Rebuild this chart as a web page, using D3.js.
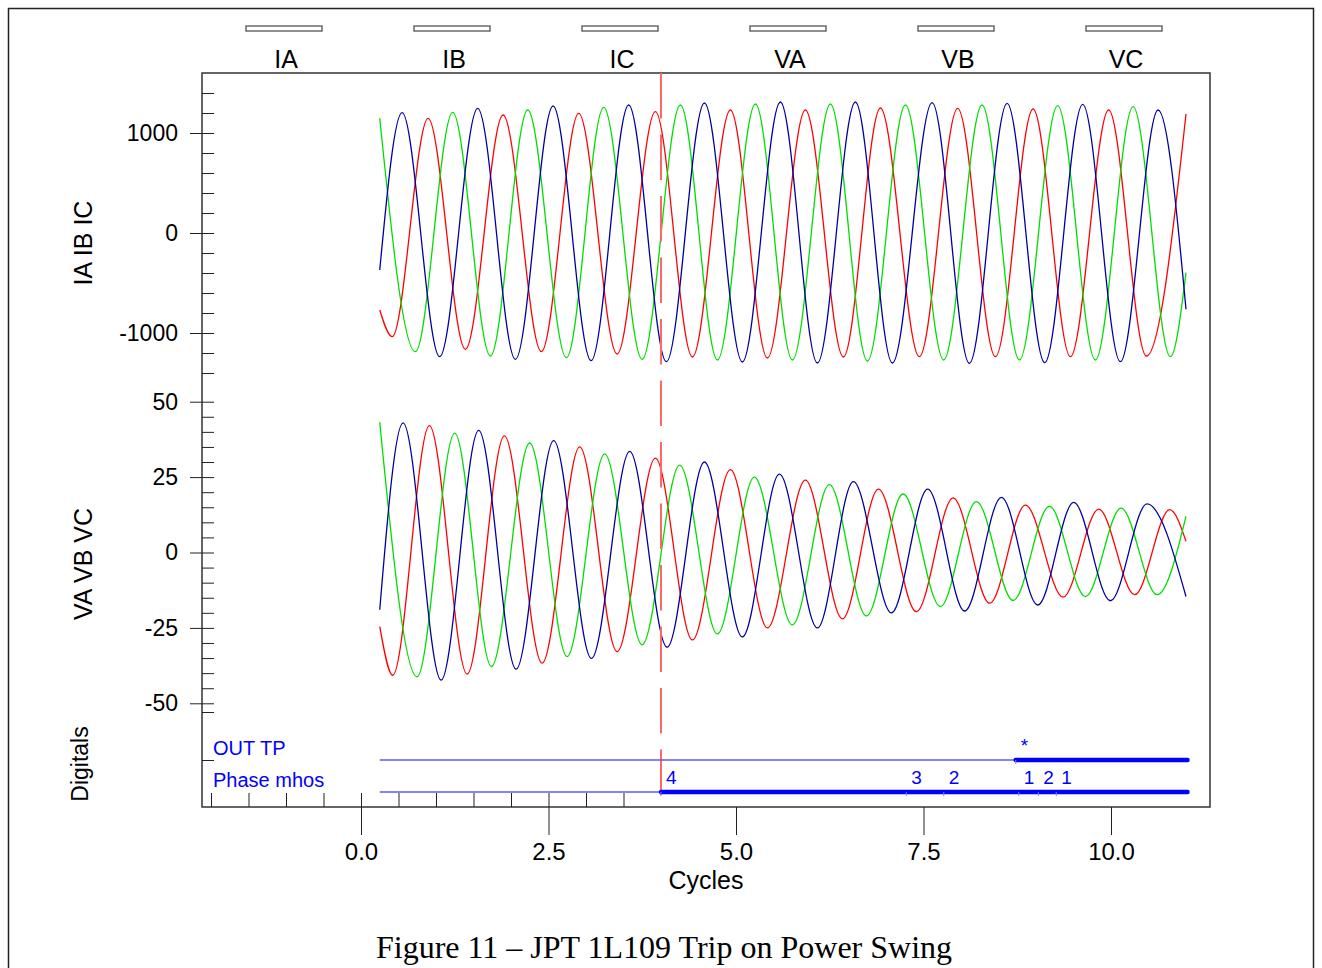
<!DOCTYPE html>
<html>
<head>
<meta charset="utf-8">
<script src="https://d3js.org/d3.v7.min.js"></script>
<style>
  body { margin: 0; background: #fff; }
  svg text { font-family: "Liberation Sans", Arial, sans-serif; }
</style>
</head>
<body>
<div id="chart"></div>
<script>
// ---- data (time in cycles, extrema) ----
var legendNames = ["IA", "IB", "IC", "VA", "VB", "VC"];
var xTicks = [0, 2.5, 5, 7.5, 10];
var xMinor = [-2, -1.5, -1, -0.5, 0, 0.5, 1, 1.5, 2, 2.5, 3, 3.5];
var iTicks = [-1000, 0, 1000];
var iMinor = [-1400, -1200, -800, -600, -400, -200, 200, 400, 600, 800, 1200, 1400];
var vTicks = [-50, -25, 0, 25, 50];
var vMinor = [-45, -40, -35, -30, -20, -15, -10, -5, 5, 10, 15, 20, 30, 35, 40, 45];

var IA = [[0.25,-770],[0.415,-1037],[0.895,1147],[1.392,-1163],[1.895,1180],[2.405,-1187],[2.903,1197],[3.415,-1210],[3.925,1213],[4.419,-1240],[4.925,1230],[5.419,-1250],[5.925,1230],[6.432,-1240],[6.925,1250],[7.445,-1237],[7.956,1247],[8.459,-1237],[8.961,1240],[9.459,-1237],[9.969,1230],[10.472,-1230],[11.0,1190]];
var IB = [[0.25,1147],[0.725,-1187],[1.223,1207],[1.725,-1230],[2.223,1230],[2.739,-1247],[3.236,1257],[3.748,-1263],[4.259,1280],[4.752,-1270],[5.259,1290],[5.752,-1270],[6.259,1290],[6.752,-1280],[7.259,1280],[7.769,-1270],[8.281,1280],[8.779,-1270],[9.289,1273],[9.792,-1270],[10.295,1263],[10.792,-1237],[11.0,-397]];
var IC = [[0.25,-370],[0.548,1203],[1.049,-1237],[1.556,1247],[2.059,-1263],[2.561,1270],[3.068,-1277],[3.569,1280],[4.072,-1287],[4.579,1300],[5.085,-1290],[5.592,1310],[6.085,-1300],[6.592,1310],[7.085,-1300],[7.615,1303],[8.112,-1303],[8.615,1297],[9.116,-1297],[9.623,1287],[10.125,-1287],[10.628,1230],[11.0,-763]];

var VA = [[0.25,-24.6],[0.423,-40.7],[0.912,42.1],[1.415,-40.3],[1.912,38.7],[2.415,-36.7],[2.916,35.0],[3.415,-32.9],[3.925,31.3],[4.419,-29],[4.925,27.5],[5.419,-25],[5.925,24],[6.419,-22],[6.899,21],[7.405,-19.6],[7.895,18.1],[8.383,-16.8],[8.859,15.7],[9.361,-14.8],[9.836,14.4],[10.316,-14.0],[10.783,14.2],[11.0,3.7]];
var VB = [[0.25,43.2],[0.748,-41.2],[1.249,39.6],[1.739,-37.8],[2.249,36.3],[2.748,-34.5],[3.249,32.7],[3.748,-30.6],[4.249,29],[4.752,-27],[5.245,25],[5.752,-24],[6.245,22.5],[6.739,-21],[7.228,19.4],[7.725,-17.9],[8.205,16.9],[8.695,-15.9],[9.179,15.3],[9.659,-14.6],[10.135,14.7],[10.615,-14.0],[11.0,12.0]];
var VC = [[0.25,-19.0],[0.561,43.0],[1.068,-42.3],[1.569,40.5],[2.068,-38.7],[2.569,37.1],[3.072,-35.1],[3.583,33.5],[4.081,-31.4],[4.579,30],[5.085,-28],[5.579,26],[6.085,-25],[6.565,23.5],[7.072,-20],[7.556,21.0],[8.049,-19.4],[8.539,18.3],[9.023,-17.4],[9.503,16.6],[9.992,-16.0],[10.481,16.1],[11.0,-14.6]];

var digitalNames = ["OUT TP", "Phase mhos"];
var outTp = [[0.25,0],[8.73,1],[11.02,1]];
var phaseMhos = [[0.25,0],[4.0,1],[11.02,1]];
var outTpMarks = [[8.73,"*"]];
var phaseMhosMarks = [[4.0,"4"],[7.27,"3"],[7.77,"2"],[8.77,"1"],[9.03,"2"],[9.27,"1"]];
var triggerTime = 4.0;

// ---- layout ----
var width = 1322, height = 968;
var box = { left: 202, right: 1210, top: 73, bottom: 807 };
var colors = { A: "#ff0000", B: "#00dd00", C: "#0000a0" };
var plainNum = function (d) { return String(d); };

var svg = d3.select("#chart").append("svg")
  .attr("width", width)
  .attr("height", height);

// page frame
svg.append("rect")
  .attr("x", 8.5).attr("y", 8.5)
  .attr("width", 1305).attr("height", 1000)
  .attr("fill", "none").attr("stroke", "#222").attr("stroke-width", 1.5);

var x = d3.scaleLinear().domain([-2.12, 11.32]).range([box.left, box.right]);
var yI = d3.scaleLinear().domain([-1000, 1000]).range([333, 133]);
var yV = d3.scaleLinear().domain([-50, 50]).range([703.3, 401.7]);
var yD = d3.scalePoint().domain(digitalNames).range([760, 792]);
var legendX = d3.scalePoint().domain(legendNames).range([284, 1124]);

// legend
var leg = svg.append("g").attr("class", "legend");
leg.selectAll("rect")
  .data(legendNames)
  .enter().append("rect")
  .attr("x", function (d) { return legendX(d) - 38; })
  .attr("y", 26)
  .attr("width", 76)
  .attr("height", 5)
  .attr("fill", "#fff")
  .attr("stroke", "#444")
  .attr("stroke-width", 1.2);
leg.selectAll("text")
  .data(legendNames)
  .enter().append("text")
  .attr("x", function (d) { return legendX(d) + 2; })
  .attr("y", 68)
  .attr("text-anchor", "middle")
  .attr("font-size", 25)
  .attr("fill", "#000")
  .text(function (d) { return d; });

// plot box
svg.append("rect")
  .attr("x", box.left).attr("y", box.top)
  .attr("width", box.right - box.left).attr("height", box.bottom - box.top)
  .attr("fill", "none").attr("stroke", "#333").attr("stroke-width", 1.5);

// y axes : major ticks cross the frame, minor ticks inside only
function yAxis(scale, major, minor) {
  var outer = svg.append("g").attr("transform", "translate(" + box.left + ",0)");
  outer.call(d3.axisLeft(scale).tickValues(major).tickSize(12).tickSizeOuter(0)
    .tickPadding(12).tickFormat(plainNum));
  var inner = svg.append("g").attr("transform", "translate(" + box.left + ",0)");
  inner.call(d3.axisRight(scale).tickValues(major.concat(minor)).tickSize(12).tickSizeOuter(0).tickFormat(""));
  [outer, inner].forEach(function (g) {
    g.selectAll(".domain").remove();
    g.attr("font-size", 23).attr("font-family", null);
    g.selectAll("line").attr("stroke", "#222");
    g.selectAll("text").attr("fill", "#000");
  });
}
yAxis(yI, iTicks, iMinor);
yAxis(yV, vTicks, vMinor);

// digitals axis ticks
var dTicks = svg.append("g").attr("transform", "translate(" + box.left + ",0)");
dTicks.selectAll("line")
  .data([712, yD("OUT TP")])
  .enter().append("line")
  .attr("x1", 0).attr("x2", 12)
  .attr("y1", function (d) { return d + 0.5; })
  .attr("y2", function (d) { return d + 0.5; })
  .attr("stroke", "#222");

// x axis
var xg = svg.append("g").attr("transform", "translate(0," + box.bottom + ")");
xg.call(d3.axisBottom(x).tickValues(xTicks).tickSize(28).tickSizeOuter(0)
  .tickPadding(8).tickFormat(d3.format(".1f")));
var xg2 = svg.append("g").attr("transform", "translate(0," + box.bottom + ")");
xg2.call(d3.axisTop(x).tickValues(xMinor).tickSize(14).tickSizeOuter(0).tickFormat(""));
[xg, xg2].forEach(function (g) {
  g.selectAll(".domain").remove();
  g.attr("font-size", 24).attr("font-family", null);
  g.selectAll("line").attr("stroke", "#222");
  g.selectAll("text").attr("fill", "#000");
});

// axis titles
function vTitle(txt, cx, cy, size) {
  svg.append("text")
    .attr("transform", "translate(" + cx + "," + cy + ") rotate(-90)")
    .attr("text-anchor", "middle")
    .attr("font-size", size)
    .attr("fill", "#000")
    .text(txt);
}
vTitle("IA IB IC", 92, 243, 25);
vTitle("VA VB VC", 92, 564, 25);
vTitle("Digitals", 88, 764, 23);

svg.append("text")
  .attr("x", (box.left + box.right) / 2)
  .attr("y", 889)
  .attr("text-anchor", "middle")
  .attr("font-size", 25)
  .attr("fill", "#000")
  .text("Cycles");

// waveforms
var plot = svg.append("g");
function wave(data, yScale, color) {
  var line = d3.line()
    .x(function (d) { return x(d[0]); })
    .y(function (d) { return yScale(d[1]); })
    .curve(d3.curveMonotoneX);
  plot.append("path")
    .datum(data)
    .attr("d", line)
    .attr("fill", "none")
    .attr("stroke", color)
    .attr("stroke-width", 1.3);
}
wave(IA, yI, colors.A);
wave(IB, yI, colors.B);
wave(IC, yI, colors.C);
wave(VA, yV, colors.A);
wave(VB, yV, colors.B);
wave(VC, yV, colors.C);

// trigger marker
svg.append("line")
  .attr("x1", x(triggerTime)).attr("x2", x(triggerTime))
  .attr("y1", box.top).attr("y2", 795)
  .attr("stroke", "#ff6666")
  .attr("stroke-width", 2)
  .attr("stroke-dasharray", "45.5,16");

// digitals
var dig = svg.append("g");
dig.selectAll("text.dname")
  .data(digitalNames)
  .enter().append("text")
  .attr("class", "dname")
  .attr("x", 213)
  .attr("y", function (d) { return yD(d) - 5; })
  .attr("font-size", 20)
  .attr("fill", "#0000ff")
  .text(function (d) { return d; });

function digital(name, steps, marks) {
  var yy = yD(name);
  for (var i = 0; i < steps.length - 1; i++) {
    var on = steps[i][1] === 1;
    dig.append("line")
      .attr("x1", x(steps[i][0])).attr("x2", x(steps[i + 1][0]))
      .attr("y1", yy).attr("y2", yy)
      .attr("stroke", on ? "#0000ff" : "#5a5aff")
      .attr("stroke-width", on ? 4.5 : 1.5)
      .attr("stroke-linecap", on ? "round" : "butt");
  }
  dig.selectAll(null)
    .data(marks)
    .enter().append("line")
    .attr("x1", function (d) { return x(d[0]); })
    .attr("x2", function (d) { return x(d[0]); })
    .attr("y1", yy).attr("y2", yy + 4)
    .attr("stroke", "#8080ff")
    .attr("stroke-width", 1);
  dig.selectAll(null)
    .data(marks)
    .enter().append("text")
    .attr("x", function (d) { return x(d[0]) + 5; })
    .attr("y", yy - 8)
    .attr("font-size", 19)
    .attr("fill", "#0000ff")
    .text(function (d) { return d[1]; });
}
digital("OUT TP", outTp, outTpMarks);
digital("Phase mhos", phaseMhos, phaseMhosMarks);

// caption
svg.append("text")
  .attr("x", 664)
  .attr("y", 958)
  .attr("text-anchor", "middle")
  .style("font-family", "'Liberation Serif', 'Times New Roman', serif")
  .attr("font-size", 32)
  .attr("fill", "#000")
  .text("Figure 11 \u2013 JPT 1L109 Trip on Power Swing");
</script>
</body>
</html>
